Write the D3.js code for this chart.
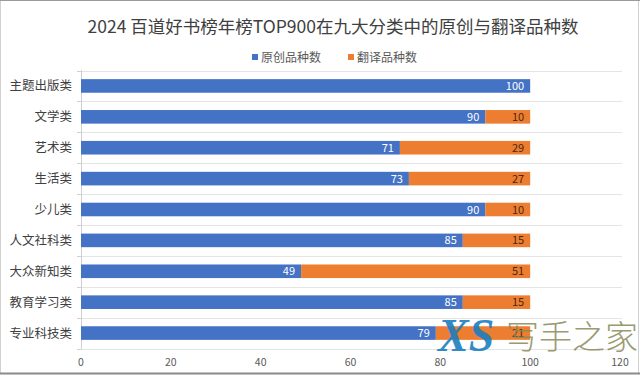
<!DOCTYPE html>
<html>
<head>
<meta charset="utf-8">
<script src="https://cdn.jsdelivr.net/npm/d3@7"></script>
<style>
  body { margin: 0; background: #fff; }
  svg { display: block; font-family: "Noto Sans CJK SC", "Noto Sans", sans-serif; }
</style>
</head>
<body>
<svg id="chart" width="640" height="375"></svg>
<script>
// categories and series
var cats = ["主题出版类", "文学类", "艺术类", "生活类", "少儿类", "人文社科类", "大众新知类", "教育学习类", "专业科技类"];
var yuanchuang = [100, 90, 71, 73, 90, 85, 49, 85, 79];
var fanyi = [0, 10, 29, 27, 10, 15, 51, 15, 21];
var seriesNames = ["原创品种数", "翻译品种数"];
var xTicks = [0, 20, 40, 60, 80, 100, 120];

var colors = ["#4472C4", "#ED7D31"];
var labelColors = ["#ffffff", "#4a2a0c"];

var svg = d3.select("#chart");

// frame round the whole chart
svg.append("rect")
    .attr("x", 0.5).attr("y", 0.5)
    .attr("width", 638).attr("height", 373)
    .attr("fill", "#fff")
    .attr("stroke", "#d0d0d0");
svg.append("line").attr("x1", 0).attr("x2", 640).attr("y1", 0.5).attr("y2", 0.5).attr("stroke", "#9a9a9a");
svg.append("line").attr("x1", 0).attr("x2", 640).attr("y1", 373.5).attr("y2", 373.5).attr("stroke", "#8a8a8a").attr("stroke-width", 2);

var x = d3.scaleLinear().domain([0, 120]).range([81, 620]);
var y = d3.scaleBand().domain(cats).range([70.5, 348.5])
    .paddingInner(0.56).paddingOuter(0.28);
var step = y.step();

// title
svg.append("text")
    .attr("x", 333).attr("y", 33)
    .attr("text-anchor", "middle")
    .attr("font-size", 17.5)
    .attr("fill", "#404040")
    .text("2024 百道好书榜年榜TOP900在九大分类中的原创与翻译品种数");

// legend
var legX = [252, 348];
var leg = svg.selectAll(".leg").data(seriesNames).enter().append("g")
    .attr("transform", function(d, i) { return "translate(" + legX[i] + ",57)"; });
leg.append("rect").attr("x", 0).attr("y", -3).attr("width", 6).attr("height", 6)
    .attr("fill", function(d, i) { return colors[i]; });
leg.append("text").attr("x", 9).attr("y", 4.5)
    .attr("font-size", 12).attr("fill", "#595959")
    .text(function(d) { return d; });

// horizontal grid lines between categories
var bounds = d3.range(cats.length + 1).map(function(i) { return 70.5 + i * step; });
svg.selectAll(".grid").data(bounds).enter().append("line")
    .attr("x1", 81).attr("x2", 622)
    .attr("y1", function(d) { return Math.round(d) + 0.5; })
    .attr("y2", function(d) { return Math.round(d) + 0.5; })
    .attr("stroke", "#e4e4e4");

// y axis line with tick marks at the boundaries
svg.append("line").attr("x1", 81.5).attr("x2", 81.5).attr("y1", 70).attr("y2", 349)
    .attr("stroke", "#d0d0d0");
svg.selectAll(".ytick").data(bounds).enter().append("line")
    .attr("x1", 77).attr("x2", 81)
    .attr("y1", function(d) { return Math.round(d) + 0.5; })
    .attr("y2", function(d) { return Math.round(d) + 0.5; })
    .attr("stroke", "#d0d0d0");

// category labels
svg.selectAll(".cat").data(cats).enter().append("text")
    .attr("x", 72)
    .attr("y", function(d) { return y(d) + y.bandwidth() / 2 + 4.5; })
    .attr("text-anchor", "end")
    .attr("font-size", 12.5)
    .attr("fill", "#404040")
    .text(function(d) { return d; });

// x tick labels
svg.selectAll(".xt").data(xTicks).enter().append("text")
    .attr("x", function(d) { return x(d); })
    .attr("y", 366)
    .attr("text-anchor", "middle")
    .attr("font-size", 10.5)
    .attr("fill", "#595959")
    .text(function(d) { return d; });

// stacked bars
var rows = cats.map(function(c, i) { return { cat: c, a: yuanchuang[i], b: fanyi[i] }; });
var stack = d3.stack().keys(["a", "b"])(rows);

stack.forEach(function(s, si) {
    var g = svg.append("g");
    g.selectAll("rect").data(s).enter().append("rect")
        .filter(function(d) { return d[1] > d[0]; })
        .attr("x", function(d) { return x(d[0]); })
        .attr("y", function(d) { return y(d.data.cat); })
        .attr("width", function(d) { return x(d[1]) - x(d[0]); })
        .attr("height", y.bandwidth())
        .attr("fill", colors[si]);
    g.selectAll("text").data(s.filter(function(d) { return d[1] > d[0]; })).enter().append("text")
        .attr("x", function(d) { return x(d[1]) - 6; })
        .attr("y", function(d) { return y(d.data.cat) + y.bandwidth() / 2 + 4; })
        .attr("text-anchor", "end")
        .attr("font-size", 11)
        .attr("fill", labelColors[si])
        .text(function(d) { return d[1] - d[0]; });
});

// watermark
svg.append("text")
    .attr("x", 438).attr("y", 351)
    .attr("font-family", "Liberation Serif")
    .attr("font-weight", "bold").attr("font-style", "italic")
    .attr("font-size", 46)
    .attr("fill", "#1b7fc2")
    .attr("opacity", 0.9)
    .text("XS");
svg.append("text")
    .attr("x", 506).attr("y", 349)
    .attr("font-size", 33)
    .attr("font-weight", 300)
    .attr("fill", "#8a8a5a")
    .attr("opacity", 0.85)
    .text("写手之家");
</script>
</body>
</html>
